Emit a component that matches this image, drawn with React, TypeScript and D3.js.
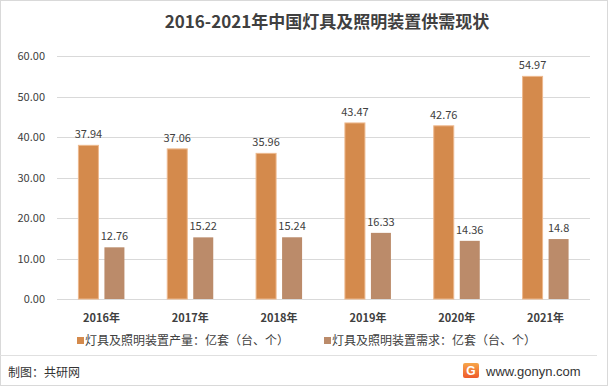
import React, { useEffect, useRef } from 'react';
import * as d3 from 'd3';

const years = ['2016年', '2017年', '2018年', '2019年', '2020年', '2021年'];
const production = [37.94, 37.06, 35.96, 43.47, 42.76, 54.97];
const demand = [12.76, 15.22, 15.24, 16.33, 14.36, 14.8];
const yTicks = [0, 10, 20, 30, 40, 50, 60];
const seriesNames = ['灯具及照明装置产量：亿套（台、个）', '灯具及照明装置需求：亿套（台、个）'];
const seriesColors = ['#D48A4C', '#BB8B6A'];

const font = '"Microsoft YaHei", "Noto Sans CJK SC", sans-serif';

const App: React.FC = () => {
  const svgRef = useRef<SVGSVGElement>(null);

  useEffect(() => {
    if (!svgRef.current) return;
    const width = 612;
    const height = 389;
    const svg = d3.select(svgRef.current);
    svg.selectAll('*').remove();
    svg.attr('width', width).attr('height', height);

    // frame
    svg.append('rect')
      .attr('x', 0.5).attr('y', 0.5)
      .attr('width', width - 5).attr('height', height - 4)
      .attr('fill', '#fff').attr('stroke', '#d9d9d9');

    // title
    svg.append('text')
      .attr('x', 327).attr('y', 28)
      .attr('text-anchor', 'middle')
      .attr('font-family', font)
      .attr('font-size', '17px')
      .attr('font-weight', 'bold')
      .attr('fill', '#404040')
      .text('2016-2021年中国灯具及照明装置供需现状');

    const left = 57;
    const right = 590;
    const y = d3.scaleLinear().domain([0, 60]).range([299, 56]);
    const x = d3.scaleBand().domain(years).range([left, right]);
    const barW = 20;
    const gap = 6;

    // gridlines
    svg.append('g')
      .selectAll('line')
      .data(yTicks)
      .enter()
      .append('line')
      .attr('x1', left).attr('x2', right)
      .attr('y1', (d) => Math.round(y(d)) + 0.5)
      .attr('y2', (d) => Math.round(y(d)) + 0.5)
      .attr('stroke', '#d9d9d9');

    svg.append('g')
      .selectAll('text')
      .data(yTicks)
      .enter()
      .append('text')
      .attr('x', 45).attr('y', (d) => y(d) + 4)
      .attr('text-anchor', 'end')
      .attr('font-family', font)
      .attr('font-size', '11px')
      .attr('fill', '#404040')
      .text((d) => d.toFixed(2));

    const series = [production, demand];
    series.forEach((vals, si) => {
      const offset = si === 0 ? -(barW + gap / 2) : gap / 2;
      const g = svg.append('g');
      g.selectAll('rect')
        .data(vals)
        .enter()
        .append('rect')
        .attr('x', (_, i) => x(years[i])! + x.bandwidth() / 2 + offset)
        .attr('y', (d) => y(d))
        .attr('width', barW)
        .attr('height', (d) => y(0) - y(d))
        .attr('fill', seriesColors[si])
        .attr('stroke', si === 0 ? '#EDB98E' : 'none')
        .attr('stroke-width', 1);
      g.selectAll('text')
        .data(vals)
        .enter()
        .append('text')
        .attr('x', (_, i) => x(years[i])! + x.bandwidth() / 2 + offset + barW / 2)
        .attr('y', (d) => y(d) - 7)
        .attr('text-anchor', 'middle')
        .attr('font-family', font)
        .attr('font-size', '11px')
        .attr('fill', '#404040')
        .text((d) => String(d));
    });

    // category labels
    svg.append('g')
      .selectAll('text')
      .data(years)
      .enter()
      .append('text')
      .attr('x', (d) => x(d)! + x.bandwidth() / 2)
      .attr('y', 322)
      .attr('text-anchor', 'middle')
      .attr('font-family', font)
      .attr('font-size', '11px')
      .attr('font-weight', 'bold')
      .attr('fill', '#404040')
      .text((d) => d);

    // legend
    const legendX = [77, 324];
    seriesNames.forEach((name, i) => {
      svg.append('rect')
        .attr('x', legendX[i]).attr('y', 337)
        .attr('width', 7).attr('height', 7)
        .attr('fill', seriesColors[i]);
      svg.append('text')
        .attr('x', legendX[i] + 8).attr('y', 345)
        .attr('font-family', font)
        .attr('font-size', '12px')
        .attr('fill', '#404040')
        .text(name);
    });

    // footer
    svg.append('line')
      .attr('x1', 0).attr('x2', 597)
      .attr('y1', 355.5).attr('y2', 355.5)
      .attr('stroke', '#e0e0e0');
    svg.append('text')
      .attr('x', 8).attr('y', 377)
      .attr('font-family', font)
      .attr('font-size', '12px')
      .attr('fill', '#333')
      .text('制图：共研网');

    const defs = svg.append('defs');
    const grad = defs.append('linearGradient')
      .attr('id', 'logoGrad').attr('x1', 0).attr('y1', 0).attr('x2', 0).attr('y2', 1);
    grad.append('stop').attr('offset', '0%').attr('stop-color', '#F7A64A');
    grad.append('stop').attr('offset', '100%').attr('stop-color', '#EE5A2A');
    svg.append('rect')
      .attr('x', 463).attr('y', 363)
      .attr('width', 16).attr('height', 15)
      .attr('rx', 2)
      .attr('fill', 'url(#logoGrad)');
    svg.append('text')
      .attr('x', 471).attr('y', 375)
      .attr('text-anchor', 'middle')
      .attr('font-family', 'Arial, sans-serif')
      .attr('font-size', '12px')
      .attr('font-weight', 'bold')
      .attr('fill', '#fff')
      .text('G');
    svg.append('text')
      .attr('x', 486).attr('y', 376)
      .attr('font-family', 'Arial, "Liberation Sans", sans-serif')
      .attr('font-size', '13px')
      .attr('fill', '#333')
      .text('www.gonyn.com');
  }, []);

  return (
    <svg
      ref={svgRef}
      style={{ position: 'absolute', left: 0, top: 0, display: 'block' }}
    ></svg>
  );
};

export default App;
